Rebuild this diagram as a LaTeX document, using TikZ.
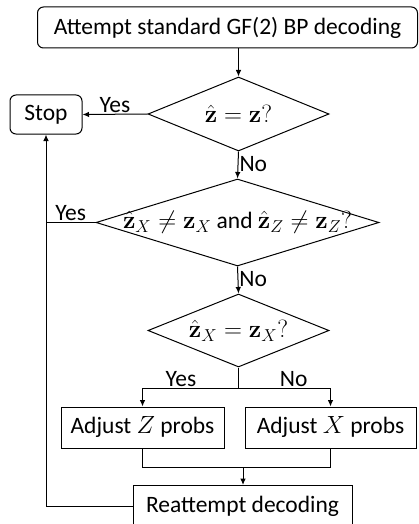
\documentclass[tikz,border=0pt]{standalone}
\usepackage[no-math]{fontspec}
\setmainfont{Carlito}
\usetikzlibrary{shapes.geometric,arrows.meta}
\begin{document}
\begin{tikzpicture}[x=1pt,y=-1pt,
  every node/.style={font=\fontsize{23.5}{26}\selectfont},
  box/.style={draw,line width=1pt,inner sep=0pt,minimum height=41pt},
  rbox/.style={box,rounded corners=6pt},
  dia/.style={draw,shape=diamond,line width=1pt,inner sep=0pt},
  conn/.style={line width=1pt},
  arr/.style={conn,-{Latex[length=6.5pt,width=5.5pt]}},
  lbl/.style={inner sep=1pt}]
\useasboundingbox (0,0) rectangle (418,524);
\node[rbox,minimum width=380pt] (top) at (227.5,27.5) {Attempt standard GF(2) BP decoding};
\node[rbox,minimum width=72pt,minimum height=39pt] (stop) at (46,114.5) {Stop};
\node[dia,minimum width=181pt,minimum height=74pt] (d1) at (238.5,114) {};
\node (d1t) at (d1.center) {$\hat{\mathbf{z}}=\mathbf{z}?$};
\node[dia,minimum width=283pt,minimum height=87pt] (d2) at (237.5,222.5) {};
\node (d2t) at (d2.center) {$\hat{\mathbf{z}}_X\neq\mathbf{z}_X$ and $\hat{\mathbf{z}}_Z\neq\mathbf{z}_Z?$};
\node[dia,minimum width=181pt,minimum height=73pt] (d3) at (238.5,330.5) {};
\node (d3t) at (d3.center) {$\hat{\mathbf{z}}_X=\mathbf{z}_X?$};
\node[box,minimum width=163pt] (adjz) at (142.5,427.5) {Adjust $Z$ probs};
\node[box,minimum width=171pt] (adjx) at (330.5,427.5) {Adjust $X$ probs};
\node[box,minimum width=219pt] (re) at (242.5,506) {Reattempt decoding};
\coordinate (split) at (238.5,388);
\coordinate (merge) at (243,467);
\draw[arr] (d1.north |- top.south) -- (d1.north);
\draw[arr] (d1.west) -- node[lbl,above,pos=0.5] {Yes} (stop.east);
\draw[arr] (d1.south) -- node[lbl,right,pos=0.45] {No} (d2.north);
\draw[conn] (d2.west) -- node[lbl,above,pos=0.5] {Yes} (d2.west -| stop.south);
\draw[arr] (d2.south) -- node[lbl,right,pos=0.45] {No} (d3.north);
\draw[conn] (d3.south) -- (split);
\draw[arr] (split) -| node[lbl,above,pos=0.3] {Yes} (adjz.north);
\draw[arr] (split) -| node[lbl,above,pos=0.3] {No} (adjx.north);
\draw[conn] (adjz.south) -- (adjz.south |- merge) -| (adjx.south);
\draw[arr] (merge) -- (merge |- re.north);
\draw[arr] (re.west) -| (stop.south);
\end{tikzpicture}
\end{document}
